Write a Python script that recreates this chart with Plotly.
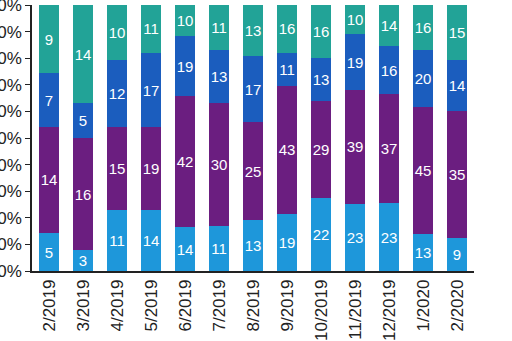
import plotly.graph_objects as go

months = ["2/2019", "3/2019", "4/2019", "5/2019", "6/2019", "7/2019", "8/2019",
          "9/2019", "10/2019", "11/2019", "12/2019", "1/2020", "2/2020"]

# Segment values, bottom to top
seg_light = [5, 3, 11, 14, 14, 11, 13, 19, 22, 23, 23, 13, 9]
seg_purple = [14, 16, 15, 19, 42, 30, 25, 43, 29, 39, 37, 45, 35]
seg_blue = [7, 5, 12, 17, 19, 13, 17, 11, 13, 19, 16, 20, 14]
seg_teal = [9, 14, 10, 11, 10, 11, 13, 16, 16, 10, 14, 16, 15]

pct_ticks = list(range(0, 101, 10))

series = [
    (seg_light, "#1E97DA"),
    (seg_purple, "#6B1E80"),
    (seg_blue, "#1B5DBE"),
    (seg_teal, "#22A397"),
]

fig = go.Figure()
for vals, color in series:
    fig.add_trace(go.Bar(
        x=months, y=vals, text=vals,
        texttemplate="%{text}",
        textposition="inside", insidetextanchor="middle", textangle=0,
        textfont=dict(color="white", size=15, family="Liberation Sans, Arial"),
        marker=dict(color=color, line=dict(width=0)),
        showlegend=False,
    ))

fig.update_layout(
    barmode="stack", barnorm="percent", bargap=0.44,
    width=512, height=341,
    margin=dict(l=32, r=38, t=5, b=70),
    plot_bgcolor="white", paper_bgcolor="white",
    font=dict(family="Liberation Sans, Arial", size=17, color="#222222"),
    uniformtext=dict(minsize=15, mode="show"),
)
fig.update_xaxes(
    type="category", tickangle=-90, showgrid=False, automargin=False,
    showline=True, linecolor="#222222", linewidth=1.5, ticks="",
    tickfont=dict(size=17, color="#222222"),
)
fig.update_yaxes(
    range=[0, 100], tickvals=pct_ticks,
    ticktext=[f"{v}%" for v in pct_ticks], automargin=False,
    ticklabeloverflow="allow", showgrid=False,
    showline=True, linecolor="#222222", linewidth=1.5,
    ticks="outside", ticklen=5, tickcolor="#222222",
    tickfont=dict(size=17, color="#222222"), zeroline=False,
)

fig.write_html("out.html")
